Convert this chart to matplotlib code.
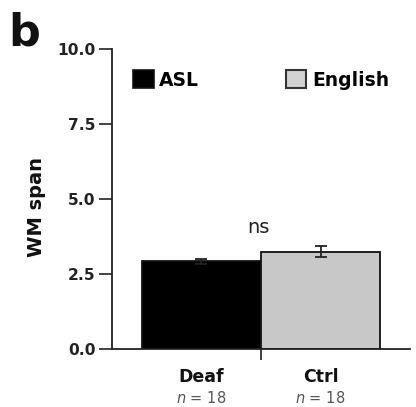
import matplotlib
matplotlib.use("Agg")
import matplotlib.pyplot as plt
from matplotlib.patches import Patch

# Working-memory span by group
groups = ["Deaf", "Ctrl"]
group_n = ["$n$ = 18", "$n$ = 18"]
languages = ["ASL", "English"]
span_mean = [2.93, 3.24]
span_sem = [0.08, 0.18]
y_ticks = [0.0, 2.5, 5.0, 7.5, 10.0]
significance = "ns"

bar_colors = ["#000000", "#c8c8c8"]
plt.rcParams["font.family"] = ["DejaVu Sans"]
plt.rcParams["mathtext.fontset"] = "dejavusans"

fig = plt.figure(figsize=(4.16, 4.07), dpi=100)
ax = fig.add_axes([112 / 416, 1 - 349 / 407, 298 / 416, 300 / 407])

x = list(range(len(groups)))
ax.bar(x, span_mean, width=1.0, color=bar_colors, edgecolor="#111111",
       linewidth=1.3, zorder=2)
ax.errorbar(x, span_mean, yerr=span_sem, fmt="none", ecolor="#222222",
            elinewidth=1.3, capsize=4.5, capthick=1.3, zorder=3)

ax.set_xlim(-0.75, 1.75)
ax.set_ylim(0, 10)
ax.set_yticks(y_ticks)
ax.set_yticklabels([f"{v:.1f}" for v in y_ticks], fontsize=11.2, fontweight="bold")
ax.set_xticks([0.5])
ax.set_xticklabels([""])
ax.tick_params(axis="y", direction="out", length=9.5, width=1.2, pad=2.5, colors="#222222")
ax.tick_params(axis="x", direction="out", length=8, width=1.2, colors="#222222")

for side in ("top", "right"):
    ax.spines[side].set_visible(False)
for side in ("left", "bottom"):
    ax.spines[side].set_linewidth(1.3)
    ax.spines[side].set_color("#222222")

# Group names and sample sizes under each bar
xt = ax.get_xaxis_transform()
for xi, g, n in zip(x, groups, group_n):
    ax.text(xi, -33 / 300, g, transform=xt, ha="center", va="baseline",
            fontsize=12.5, fontweight="bold", color="#111111")
    ax.text(xi, -54 / 300, n, transform=xt, ha="center", va="baseline",
            fontsize=10.5, color="#555555")

# Significance marker above the bars
ax.text(0.48, 4.05, significance, ha="center", va="center", fontsize=14,
        color="#222222")

fig.text(37 / 416, 1 - 207 / 407, "WM span", rotation=90, ha="center",
         va="center", fontsize=14, fontweight="bold", color="#111111")

fig.text(8 / 416, 1 - 45 / 407, "b", ha="left", va="baseline", fontsize=32,
         fontweight="bold", color="#111111")

handles = [
    Patch(facecolor=bar_colors[0], edgecolor="#111111", linewidth=1.2),
    Patch(facecolor="#d2d2d2", edgecolor="#333333", linewidth=1.5),
]
leg = ax.legend(handles, languages, loc="center left",
                bbox_to_anchor=((133 - 112) / 298, 1 - (80 - 49) / 300),
                ncol=2, frameon=False, borderpad=0, borderaxespad=0,
                handlelength=1.1, handleheight=1.1, handletextpad=0.3,
                columnspacing=4.6, prop={"size": 13.5, "weight": "bold"})

fig.savefig("out.png", dpi=100)
